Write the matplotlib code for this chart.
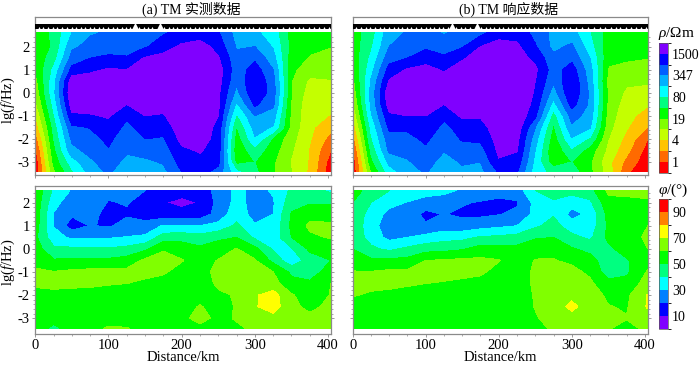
import matplotlib
matplotlib.use("Agg")
import matplotlib.pyplot as plt
from matplotlib.colors import ListedColormap, BoundaryNorm
from matplotlib.patches import Rectangle

plt.rcParams['font.family'] = ['Liberation Serif', 'Noto Sans CJK SC']
plt.rcParams['mathtext.fontset'] = 'custom'
plt.rcParams['mathtext.rm'] = 'Liberation Serif'
plt.rcParams['mathtext.it'] = 'Liberation Serif:italic'
plt.rcParams['axes.unicode_minus'] = False

# Distance columns (km) and log-frequency rows
distance = [0, 25, 50, 75, 100, 125, 150, 175, 200, 225, 250, 275, 300, 325, 350, 375, 404]
lg_rho = [2.6, 2, 1.5, 1, 0.5, 0, -0.5, -1, -1.5, -2, -2.5, -3, -3.43]
lg_phi = [2.52, 2, 1.5, 1, 0.5, 0, -0.5, -1, -1.5, -2, -2.5, -3, -3.46]

# Apparent resistivity, measured: position on the 12-step colour scale
rho_obs = [
 [5.4, 6.2, 8.0, 8.9, 9.1, 9.2, 9.6, 9.9, 10.3, 10.4, 10.1, 8.6, 8.2, 7.5, 5.6, 5.2, 5.0],
 [5.4, 6.1, 8.8, 9.3, 9.3, 9.1, 9.9, 10.5, 11.2, 11.5, 10.6, 8.9, 9.0, 7.9, 5.6, 5.2, 5.0],
 [5.3, 6.5, 9.4, 10.0, 10.3, 10.2, 11.1, 11.4, 11.6, 11.7, 11.1, 9.3, 9.8, 8.4, 5.4, 4.9, 4.9],
 [5.0, 7.2, 10.3, 10.8, 11.1, 11.0, 11.4, 11.6, 11.7, 11.8, 11.5, 9.4, 10.5, 9.0, 5.2, 4.4, 4.5],
 [4.6, 7.6, 11.6, 11.5, 11.6, 11.6, 11.7, 11.8, 11.8, 11.8, 11.4, 9.2, 10.9, 9.4, 5.0, 3.8, 3.9],
 [4.2, 7.7, 11.9, 11.8, 11.8, 11.8, 11.8, 11.8, 11.8, 11.8, 11.2, 8.7, 10.9, 9.5, 5.0, 3.5, 3.5],
 [3.7, 7.3, 11.5, 11.5, 11.6, 11.0, 11.5, 11.4, 11.8, 11.8, 11.2, 7.8, 10.2, 9.2, 4.8, 3.3, 3.3],
 [3.0, 6.8, 10.8, 10.9, 11.1, 10.2, 11.0, 10.9, 11.8, 11.8, 11.0, 6.8, 9.0, 8.5, 4.7, 3.3, 2.95],
 [2.3, 6.3, 9.8, 10.05, 10.7, 9.7, 10.5, 10.4, 11.6, 11.7, 10.7, 5.9, 8.4, 7.9, 4.6, 3.2, 2.3],
 [1.4, 6.0, 9.2, 9.6, 10.25, 9.3, 10.0, 9.9, 11.3, 11.5, 10.6, 5.4, 7.9, 5.8, 4.3, 3.1, 1.6],
 [0.7, 5.6, 8.7, 9.3, 9.9, 9.15, 9.4, 9.5, 10.8, 11.1, 10.5, 5.2, 6.6, 5.4, 4.1, 2.9, 1.0],
 [0.2, 5.2, 7.5, 8.8, 9.5, 8.7, 8.8, 9.1, 10.4, 10.7, 10.3, 5.6, 6.0, 5.1, 3.9, 2.9, 0.5],
 [0.1, 4.7, 6.8, 8.4, 9.2, 8.2, 8.7, 8.7, 10.0, 10.4, 9.6, 7.2, 6.2, 5.1, 4.0, 2.8, 0.3],
]

# Apparent resistivity, model response
rho_calc = [
 [5.5, 6.5, 8.6, 9.1, 9.4, 8.9, 9.4, 9.7, 10.6, 10.6, 9.7, 8.7, 8.4, 7.0, 5.5, 5.2, 5.0],
 [5.4, 6.8, 9.0, 9.5, 9.8, 9.5, 9.9, 11.0, 11.4, 11.2, 10.1, 8.7, 9.2, 7.4, 5.4, 5.1, 5.0],
 [5.3, 7.2, 9.6, 10.0, 10.6, 10.2, 10.9, 11.4, 11.7, 11.5, 10.7, 9.3, 9.7, 8.0, 5.2, 5.1, 5.0],
 [5.0, 7.6, 10.4, 11.1, 11.3, 10.9, 11.4, 11.6, 11.8, 11.7, 11.2, 9.5, 10.5, 8.4, 4.9, 4.7, 4.8],
 [4.6, 8.1, 11.1, 11.6, 11.6, 11.4, 11.7, 11.8, 11.8, 11.8, 11.0, 9.2, 10.9, 8.6, 4.6, 4.2, 4.1],
 [4.2, 8.3, 11.7, 11.8, 11.8, 11.5, 11.8, 11.8, 11.8, 11.8, 10.9, 8.5, 10.9, 8.8, 4.8, 3.8, 3.7],
 [3.7, 8.2, 11.5, 11.6, 11.6, 11.0, 11.5, 11.5, 11.8, 11.8, 10.7, 7.6, 10.4, 8.8, 4.7, 3.5, 3.1],
 [3.0, 7.8, 10.8, 11.0, 11.0, 10.2, 11.2, 11.1, 11.8, 11.8, 10.2, 6.5, 9.4, 8.6, 4.5, 3.3, 2.6],
 [2.3, 7.2, 10.2, 10.2, 10.6, 9.75, 10.4, 10.6, 11.6, 11.6, 9.0, 5.8, 8.8, 8.1, 4.3, 3.1, 2.0],
 [1.4, 6.8, 9.6, 9.7, 10.2, 9.35, 10.1, 10.2, 11.4, 11.3, 8.4, 5.4, 7.9, 6.8, 4.0, 2.7, 1.0],
 [0.7, 6.2, 9.2, 9.3, 9.8, 9.05, 9.6, 9.6, 11.2, 11.05, 8.0, 5.1, 6.8, 5.5, 3.7, 2.3, 0.6],
 [0.2, 5.6, 8.3, 8.9, 9.4, 8.6, 9.1, 9.0, 10.9, 10.6, 7.7, 5.3, 6.0, 5.1, 3.3, 1.7, 0.3],
 [0.1, 4.8, 7.5, 8.6, 9.1, 8.3, 8.8, 8.7, 10.1, 10.1, 7.4, 6.7, 6.5, 5.2, 3.5, 1.2, 0.1],
]

# Impedance phase (degrees), measured
phi_obs = [
 [58, 38, 29, 26, 22, 24, 20, 15, 14, 15, 23, 33, 27, 31, 42, 44, 38],
 [57, 33, 25, 24, 19.5, 20.5, 17, 10.5, 7, 10.5, 23, 33, 27, 29, 46, 49, 49],
 [56, 29.5, 21.5, 22, 18, 19, 16, 14, 14, 14, 24, 36, 26, 30, 51, 57, 55],
 [55, 29.5, 15, 20.5, 19, 23, 23, 31, 31, 30, 33, 42, 31, 32, 52, 62, 62],
 [52, 34, 28, 29, 29, 30.5, 32, 45, 46, 44, 48, 50, 38, 34, 50, 58, 61],
 [55, 42, 42, 41, 41, 43, 48, 59, 56, 52, 55, 60.5, 53, 39, 39, 52, 53],
 [58, 51, 52, 52, 52, 54, 62, 64, 60.5, 56, 60.5, 64, 61, 47, 33, 45, 50],
 [61, 60.5, 62, 63, 63, 63, 63, 61, 57, 56, 63, 66, 66, 60, 48, 45, 55],
 [61, 62, 62, 61.5, 60.5, 60, 58, 57, 55, 54, 62, 64, 66, 64, 53, 52, 60],
 [58, 58, 57, 57, 57, 57, 56, 55, 55, 55, 58, 61, 69, 74, 61, 55, 60.5],
 [56, 55, 55, 55, 54, 55, 55, 54, 55, 61, 55, 61, 69, 75, 62, 58, 62],
 [55, 54, 54, 54, 54, 54, 55, 54, 57, 64, 57, 61, 66, 66, 62, 62, 68],
 [55, 47, 54, 55, 62, 61, 55, 55, 54, 56, 55, 58, 62, 60, 60, 62, 62],
]

# Impedance phase (degrees), model response
phi_calc = [
 [53, 47, 40, 36, 34, 32, 29, 27, 25, 25, 40, 46, 44, 46, 62, 62, 62],
 [50, 40, 33, 29.5, 26, 26, 21, 19, 17, 19, 33, 38, 33, 38, 57, 58, 59],
 [47, 36, 27, 26, 17, 20.5, 18, 18, 19.5, 22, 33, 39, 27, 32, 53, 55, 58],
 [46, 35, 23, 22, 21.5, 25, 24, 26, 28, 30, 38, 44, 34, 34, 52, 56, 60],
 [47, 36, 27, 30, 33, 36, 37, 41, 42, 44, 49, 50, 43, 38, 52, 55, 62],
 [50, 42, 38, 42, 46, 47, 49, 54, 54, 53, 56, 58, 51, 47, 48, 54, 60],
 [55, 52, 52, 53, 60, 61, 62, 62, 60.5, 55, 60.5, 60.5, 58, 54, 44, 49, 56],
 [60.5, 60.5, 62, 62, 63.5, 64, 64, 62, 56, 54, 62, 63, 63, 58, 45, 48, 61],
 [61, 62, 63, 61, 60, 59, 57, 56, 54, 54, 62, 64, 66, 62, 53, 54, 64],
 [60.5, 59, 57, 57, 57, 56, 55, 55, 54, 54, 61, 65, 68, 65, 58, 58, 70.5],
 [57, 57, 56, 56, 56, 55, 54, 54, 54, 54, 60.5, 66, 72, 66, 60.5, 59, 71],
 [56, 56, 56, 56, 56, 55, 54, 54, 54, 54, 59, 64, 67, 65, 61, 60.5, 66],
 [56, 56, 56, 56, 56, 55, 54, 54, 54, 54, 55, 62, 63, 63, 60.5, 57, 62],
]

rho_levels = list(range(13))
rho_ticks = [1, 3, 5, 7, 9, 11]
rho_ticklabels = ['1', '4', '19', '80', '347', '1500']
phi_levels = list(range(0, 101, 10))
phi_ticks = [10, 30, 50, 70, 90]
rho_colors = ['#ff0000', '#ff6a00', '#ffc400', '#c4ff00', '#80ff00', '#00ff00',
              '#00ff80', '#00ffff', '#00b0ff', '#0060ff', '#0000ff', '#8000ff']
phi_colors = ['#8000ff', '#0000ff', '#0080ff', '#00ffff', '#00ff80',
              '#00ff00', '#80ff00', '#ffff00', '#ff8000', '#ff0000']

station_km = [5, 11, 18, 24, 30, 37, 43, 50, 56, 62, 68, 75, 80, 87, 93, 100, 106,
              112, 118, 124, 130, 142, 148, 154, 160, 176, 182, 188, 194, 200, 206,
              212, 218, 224, 230, 236, 242, 248, 254, 262, 268, 274, 280, 286, 292,
              298, 306, 314, 322, 330, 338, 346, 354, 360, 366, 374, 381, 388, 395, 401]
large_km = [136, 170]
GREY = '#8a8a8a'
W, H = 700, 366
fig = plt.figure(figsize=(W / 100, H / 100), dpi=100)

def box(x0, x1, y0, y1):
    return [x0 / W, 1 - y1 / H, (x1 - x0) / W, (y1 - y0) / H]

def panel(rect, lg, z, levels, colors, ylim, xlabels, ylabels, ylab_y=None, strip=False):
    ax = fig.add_axes(rect)
    cmap = ListedColormap(colors)
    norm = BoundaryNorm(levels, cmap.N)
    cs = ax.contourf(distance, lg, z, levels=levels, cmap=cmap, norm=norm)
    ax.set_xlim(0, 404)
    ax.set_ylim(*ylim)
    for s in ax.spines.values():
        s.set_color(GREY)
        s.set_linewidth(0.9)
    ax.set_xticks(range(0, 401, 100))
    ax.set_xticks(range(0, 401, 25), minor=True)
    ax.set_yticks([-3, -2, -1, 0, 1, 2])
    ax.set_yticks([v / 5 for v in range(-15, 13)], minor=True)
    ax.tick_params(which='major', length=2.5, width=0.6, color=GREY, labelsize=10.5,
                   pad=1.5, right=True, labelbottom=xlabels, labelleft=ylabels)
    ax.tick_params(which='minor', length=1.2, width=0.5, color=GREY, right=True)
    if xlabels:
        ax.set_xlabel('Distance/km', fontsize=10.5, labelpad=-1)
    if ylab_y is not None:
        ax.set_ylabel(r'lg($\mathit{f}$/Hz)', fontsize=10.5)
        ax.yaxis.set_label_coords(-0.062, ylab_y)
    if strip:
        ax.add_patch(Rectangle((0, 2.77), 404, 0.22, color='black', lw=0, zorder=3))
        ax.scatter(station_km, [2.83] * len(station_km), marker='^', s=5, c='white',
                   linewidths=0, zorder=4)
        ax.scatter(large_km, [2.89] * len(large_km), marker='^', s=28, c='white',
                   linewidths=0, zorder=4)
    return cs

up = (-3.58, 3.30)
lo = (-3.66, 2.72)
xa = (35.3, 331)
xb = (352.7, 647.7)
cs_rho = panel(box(*xa, 16.7, 175.3), lg_rho, rho_obs, rho_levels, rho_colors, up, False, True, 0.475, True)
panel(box(*xb, 16.7, 175.3), lg_rho, rho_calc, rho_levels, rho_colors, up, False, False, None, True)
cs_phi = panel(box(*xa, 186, 333.5), lg_phi, phi_obs, phi_levels, phi_colors, lo, True, True, 0.485)
panel(box(*xb, 186, 333.5), lg_phi, phi_calc, phi_levels, phi_colors, lo, True, False)

fig.text(191.5 / W, 1 - 9 / H, '(a) TM 实测数据', fontsize=10, ha='center', va='center')
fig.text(508.5 / W, 1 - 9 / H, '(b) TM 响应数据', fontsize=10, ha='center', va='center')

cax1 = fig.add_axes(box(659, 668, 43, 172.5))
cb1 = fig.colorbar(cs_rho, cax=cax1, ticks=rho_ticks)
cb1.ax.set_yticklabels(rho_ticklabels)
cax2 = fig.add_axes(box(659, 668, 199, 329))
cb2 = fig.colorbar(cs_phi, cax=cax2, ticks=phi_ticks)
for cb in (cb1, cb2):
    cb.ax.tick_params(length=0, labelsize=10, pad=3)
    cb.outline.set_linewidth(0.5)
    cb.outline.set_edgecolor('#555555')
fig.text(676 / W, 1 - 33 / H, r'$\mathit{\rho}$/Ωm', fontsize=11, ha='center', va='center')
fig.text(673 / W, 1 - 190 / H, r'$\mathit{\varphi}$/(°)', fontsize=11, ha='center', va='center')
fig.savefig('out.png', dpi=100, facecolor='white')
